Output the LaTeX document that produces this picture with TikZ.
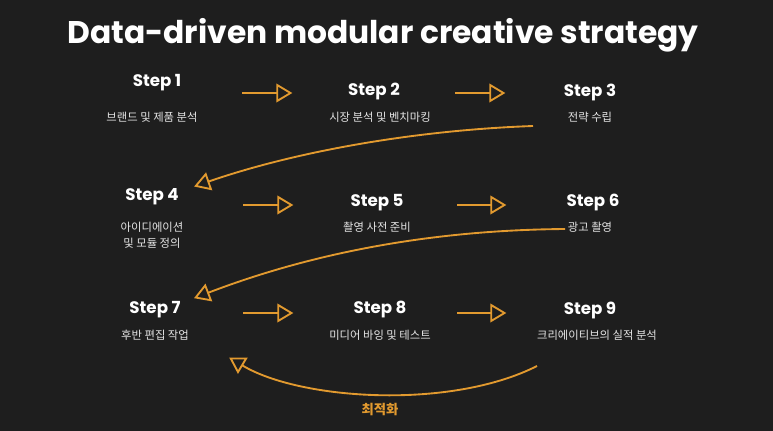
\documentclass[tikz,border=0pt]{standalone}
\usepackage{fontspec}
\setmainfont{Poppins}
\newfontfamily\kr{Noto Sans CJK KR}
\usetikzlibrary{arrows.meta}
\definecolor{bgdark}{HTML}{1E1E1E}
\definecolor{flow}{HTML}{E29A2F}
\tikzset{
  stage/.style={text=white, font=\bfseries\fontsize{12.5}{14}\selectfont},
  desc/.style={text=white!90!black, font=\kr\fontsize{8.5}{12}\selectfont, align=center},
  go/.style={draw=flow, line width=1.4pt, -{Triangle[open, length=12pt, width=14pt, sep=8pt]}},
}
\begin{document}
\begin{tikzpicture}[x=0.75pt, y=-0.75pt]
%%%%%%%%%%%%%%%%%%%%%%%%%%%%%%%%%%%%%%%%%%% background
\fill[bgdark] (0,0) rectangle (773,431);
\node[text=white, font=\bfseries\fontsize{23.5}{28}\selectfont](title) at (383,35){Data-driven modular creative strategy};

%%%%% steps
\node[stage](s1) at (157,83){Step 1};
\node[desc](d1) at (152,117){브랜드 및 제품 분석};
\node[stage](s2) at (374,92){Step 2};
\node[desc](d2) at (380,117){시장 분석 및 벤치마킹};
\node[stage](s3) at (590,92){Step 3};
\node[desc](d3) at (590,117){전략 수립};

\node[stage](s4) at (152,197){Step 4};
\node[desc](d4) at (152,235){아이디에이션\\및 모듈 정의};
\node[stage](s5) at (377,203){Step 5};
\node[desc](d5) at (377,227){촬영 사전 준비};
\node[stage](s6) at (593,203){Step 6};
\node[desc](d6) at (590,227){광고 촬영};

\node[stage](s7) at (155,310){Step 7};
\node[desc](d7) at (155,335){후반 편집 작업};
\node[stage](s8) at (380,310){Step 8};
\node[desc](d8) at (380,335){미디어 바잉 및 테스트};
\node[stage](s9) at (590,310){Step 9};
\node[desc](d9) at (597,335){크리에이티브의 실적 분석};

\node[text=flow, font=\kr\bfseries\fontsize{10}{12}\selectfont](opt) at (380,410){최적화};

%%%%% arrow ends
\coordinate (a1) at (242,93);  \coordinate (b1) at (303,93);
\coordinate (a2) at (455,93);  \coordinate (b2) at (516,93);
\coordinate (a3) at (243,205); \coordinate (b3) at (304,205);
\coordinate (a4) at (457,205); \coordinate (b4) at (517,205);
\coordinate (a5) at (243,313); \coordinate (b5) at (304,313);
\coordinate (a6) at (457,313); \coordinate (b6) at (517,313);
\coordinate (c1) at (533,126); \coordinate (e1) at (184,190);
\coordinate (c2) at (565,229); \coordinate (e2) at (184,302);
\coordinate (c3) at (537,366); \coordinate (e3) at (220,352);

\draw[go] (a1) -- (b1);
\draw[go] (a2) -- (b2);
\draw[go] (a3) -- (b3);
\draw[go] (a4) -- (b4);
\draw[go] (a5) -- (b5);
\draw[go] (a6) -- (b6);
\draw[go] (c1) .. controls (420,130) and (300,150) .. (e1);
\draw[go] (c2) .. controls (440,230) and (320,250) .. (e2);
\draw[go] (c3) .. controls (450,410) and (300,400) .. (e3);
\end{tikzpicture}
\end{document}
